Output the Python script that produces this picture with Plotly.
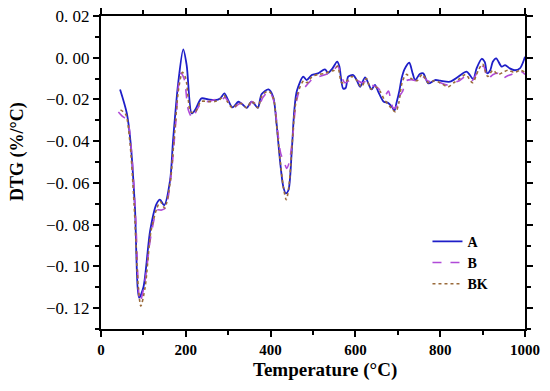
import plotly.graph_objects as go

# ---- data ----
temp_A = [45, 61, 70, 80, 90, 100, 116, 131, 139, 149, 163, 170, 182, 194, 202, 214, 222, 237, 253, 269,
          281, 291, 299, 310, 324, 332, 344, 354, 361, 370, 379, 395, 406, 414, 422, 430, 436, 442, 450, 456,
          462, 477, 485, 497, 512, 528, 536, 546, 557, 562, 571, 577, 583, 595, 603, 611, 623, 638, 646, 654,
          667, 676, 686, 692, 697, 704, 709, 716, 727, 735, 741, 752, 760, 772, 788, 800, 823, 840, 848, 862,
          870, 878, 886, 898, 905, 911, 918, 924, 932, 945, 953, 964, 976, 988, 1000]
dtg_A = [-0.0152, -0.0267, -0.041, -0.0715, -0.115, -0.110, -0.0827, -0.070, -0.068, -0.0707, -0.0587, -0.0395,
         -0.0123, 0.004, -0.0035, -0.0267, -0.025, -0.0195, -0.020, -0.0203, -0.0195, -0.0171, -0.020, -0.0238,
         -0.0211, -0.022, -0.024, -0.0211, -0.022, -0.024, -0.0174, -0.0152, -0.0187, -0.0315, -0.049, -0.0619,
         -0.065, -0.0635, -0.0443, -0.025, -0.0158, -0.0091, -0.0107, -0.0083, -0.0075, -0.0056, -0.0072, -0.0051,
         -0.0019, -0.004, -0.0147, -0.0145, -0.0091, -0.0083, -0.0107, -0.0139, -0.0094, -0.0152, -0.013, -0.0163,
         -0.0211, -0.0215, -0.0235, -0.0254, -0.0216, -0.0155, -0.0099, -0.0055, -0.0024, -0.0075, -0.0107, -0.0078,
         -0.0075, -0.0123, -0.0107, -0.011, -0.0115, -0.0095, -0.0083, -0.0067, -0.0083, -0.0104, -0.005, -0.0005,
         -0.002, -0.0075, -0.006, -0.0019, -0.0003, -0.0043, -0.0035, -0.0051, -0.006, -0.0051, 0.0005]

temp_B = [41, 50, 62, 72, 82, 92, 103, 118, 133, 143, 152, 166, 176, 188, 196, 206, 216, 226, 240, 255,
          270, 282, 292, 300, 312, 326, 334, 346, 356, 364, 372, 382, 396, 408, 416, 424, 432, 438, 444, 452,
          460, 470, 481, 490, 500, 515, 530, 545, 558, 566, 575, 585, 598, 606, 616, 628, 638, 650, 660, 670,
          678, 684, 690, 698, 705, 711, 720, 732, 745, 758, 770, 785, 800, 815, 830, 845, 860, 875, 890, 902,
          912, 925, 936, 946, 956, 968, 980, 992, 1000]
dtg_B = [-0.026, -0.028, -0.030, -0.045, -0.078, -0.117, -0.108, -0.085, -0.073, -0.073, -0.072, -0.055,
         -0.032, -0.0075, -0.010, -0.025, -0.029, -0.025, -0.021, -0.021, -0.020, -0.021, -0.019, -0.021,
         -0.024, -0.022, -0.022, -0.024, -0.021, -0.022, -0.023, -0.019, -0.016, -0.021, -0.034, -0.046,
         -0.050, -0.053, -0.050, -0.038, -0.022, -0.015, -0.014, -0.012, -0.010, -0.009, -0.008, -0.007,
         -0.004, -0.008, -0.012, -0.011, -0.010, -0.011, -0.012, -0.011, -0.013, -0.014, -0.016, -0.018,
         -0.016, -0.021, -0.0243, -0.023, -0.018, -0.0163, -0.011, -0.0105, -0.011, -0.009, -0.011, -0.012,
         -0.012, -0.013, -0.012, -0.011, -0.009, -0.011, -0.006, -0.004, -0.010, -0.008, -0.0075, -0.010,
         -0.009, -0.008, -0.007, -0.0067, -0.008]

temp_BK = [46, 58, 68, 78, 88, 94, 104, 118, 132, 140, 150, 163, 172, 183, 192, 200, 212, 222, 236, 252,
           268, 280, 290, 298, 310, 324, 332, 344, 354, 362, 370, 380, 395, 406, 414, 422, 430, 437, 443, 450,
           457, 464, 478, 486, 498, 512, 528, 540, 550, 558, 568, 580, 592, 604, 614, 626, 636, 648, 658, 668,
           680, 688, 695, 702, 710, 720, 732, 745, 758, 772, 786, 800, 818, 832, 846, 860, 876, 890, 900, 912,
           924, 936, 948, 960, 975, 990, 1000]
dtg_BK = [-0.025, -0.027, -0.040, -0.070, -0.110, -0.119, -0.110, -0.083, -0.072, -0.069, -0.072, -0.060,
          -0.040, -0.015, -0.007, -0.010, -0.026, -0.026, -0.021, -0.021, -0.021, -0.020, -0.018, -0.021,
          -0.024, -0.022, -0.022, -0.024, -0.021, -0.022, -0.024, -0.018, -0.016, -0.019, -0.032, -0.048,
          -0.062, -0.068, -0.062, -0.044, -0.025, -0.017, -0.011, -0.012, -0.009, -0.008, -0.0075, -0.0065,
          -0.006, -0.004, -0.012, -0.011, -0.009, -0.011, -0.014, -0.010, -0.015, -0.014, -0.016, -0.020,
          -0.023, -0.025, -0.026, -0.022, -0.012, -0.008, -0.010, -0.011, -0.008, -0.012, -0.011, -0.012,
          -0.014, -0.012, -0.010, -0.008, -0.012, -0.006, -0.003, -0.009, -0.006, -0.008, -0.007, -0.006,
          -0.007, -0.006, -0.007]

y_tickvals = [0.02, 0.00, -0.02, -0.04, -0.06, -0.08, -0.10, -0.12]
y_ticktext = ["0. 02", "0. 00", "\u22120. 02", "\u22120. 04", "\u22120. 06", "\u22120. 08", "\u22120. 10", "\u22120. 12"]
x_tickvals = [0, 200, 400, 600, 800, 1000]
x_title = "Temperature (°C)"
y_title = "DTG (%/°C)"

fig = go.Figure()
fig.add_trace(go.Scatter(x=temp_A, y=dtg_A, name="A", mode="lines",
                         line=dict(color="#1e1ec8", width=1.8, shape="spline", smoothing=0.8)))
fig.add_trace(go.Scatter(x=temp_B, y=dtg_B, name="B", mode="lines",
                         line=dict(color="#b04ad8", width=1.6, dash="dash", shape="spline", smoothing=0.8)))
fig.add_trace(go.Scatter(x=temp_BK, y=dtg_BK, name="BK", mode="lines",
                         line=dict(color="#9a6a3a", width=1.6, dash="dot", shape="spline", smoothing=0.8)))

axis_common = dict(showline=True, linecolor="black", linewidth=2, mirror="ticks",
                   ticks="outside", tickcolor="black", tickwidth=1.5, ticklen=6,
                   showgrid=False, zeroline=False, automargin=False, ticklabeloverflow="allow")

fig.update_xaxes(range=[0, 1000], tickvals=x_tickvals,
                 tickfont=dict(family="Liberation Serif", size=15, color="black", weight="bold"),
                 minor=dict(ticks="outside", dtick=100, ticklen=4, tickcolor="black", tickwidth=1.5),
                 **axis_common)
fig.update_yaxes(range=[-0.13, 0.02], tickvals=y_tickvals, ticktext=y_ticktext,
                 tickfont=dict(family="Liberation Serif", size=17, color="black"),
                 minor=dict(ticks="outside", dtick=0.01, tick0=0, ticklen=4, tickcolor="black", tickwidth=1.5),
                 **axis_common)

fig.add_annotation(text="<b>" + x_title + "</b>", xref="paper", yref="paper", x=0.528, y=-0.131,
                   showarrow=False, xanchor="center", yanchor="middle",
                   font=dict(family="Liberation Serif", size=19, color="black"))
fig.add_annotation(text="<b>" + y_title + "</b>", xref="paper", yref="paper", x=-0.197, y=0.567,
                   showarrow=False, xanchor="center", yanchor="middle", textangle=-90,
                   font=dict(family="Liberation Serif", size=18, color="black"))

# the page body adds an 8px offset, so the figure is 8px smaller and margins shifted
fig.update_layout(
    width=542, height=383,
    margin=dict(l=93, r=25, t=8, b=62),
    plot_bgcolor="white", paper_bgcolor="white",
    showlegend=True,
    legend=dict(x=0.77, y=0.33, xanchor="left", yanchor="top",
                bgcolor="rgba(0,0,0,0)", tracegroupgap=0,
                font=dict(family="Liberation Serif", size=14, color="black", weight="bold")),
)

fig.write_html("out.html")
